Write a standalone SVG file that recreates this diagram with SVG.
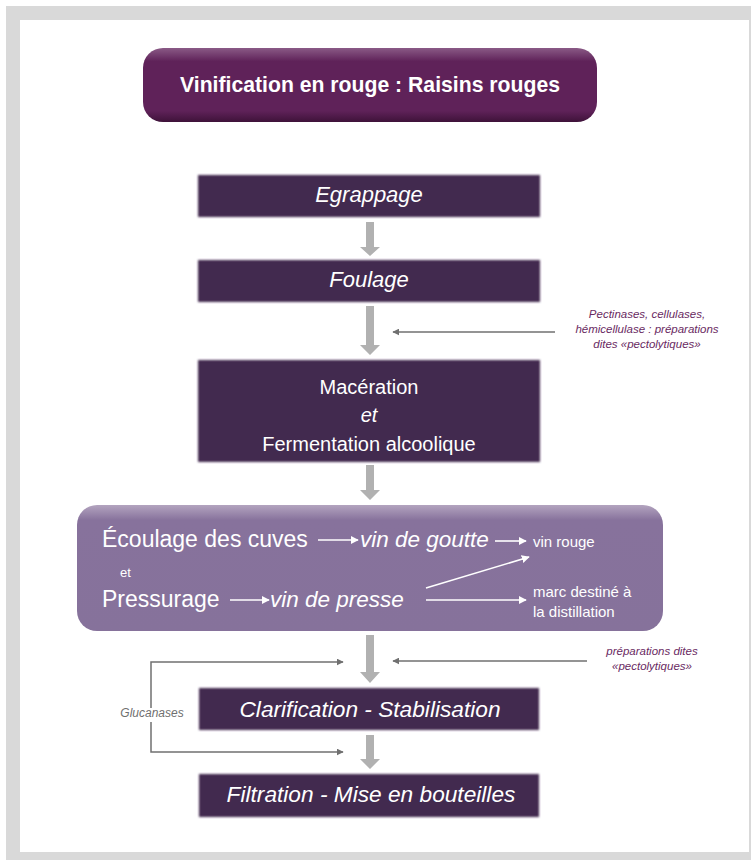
<svg xmlns="http://www.w3.org/2000/svg" width="751" height="860" viewBox="0 0 751 860">
<style>
.box{fill:#432a50;filter:url(#soft)}
.bt{font-family:"Liberation Sans",Arial,sans-serif;fill:#fff;text-anchor:middle}
.it{font-style:italic}
.ga{fill:#b1b1b1}
.thin{stroke:#707070;stroke-width:1.5;fill:none}
.wl{stroke:#fff;stroke-width:1.6;fill:none}
.note{font-family:"Liberation Sans",Arial,sans-serif;font-style:italic;fill:#6a2a62;font-size:11.5px;text-anchor:middle}
.wt{font-family:"Liberation Sans",Arial,sans-serif;fill:#fff}
</style>
<defs>
<filter id="soft" x="-5%" y="-20%" width="110%" height="140%"><feGaussianBlur stdDeviation="1.2"/></filter>
<linearGradient id="tg" x1="0" y1="0" x2="0" y2="1">
<stop offset="0" stop-color="#8a5a86"/><stop offset="0.18" stop-color="#5f2259"/><stop offset="0.85" stop-color="#5f2259"/><stop offset="1" stop-color="#3e1239"/>
</linearGradient>
<linearGradient id="lg" x1="0" y1="0" x2="0" y2="1">
<stop offset="0" stop-color="#b3a4bf"/><stop offset="0.12" stop-color="#87729c"/><stop offset="1" stop-color="#86729b"/>
</linearGradient>
<marker id="ga" viewBox="0 0 10 10" refX="9" refY="5" markerWidth="7" markerHeight="7" markerUnits="userSpaceOnUse" orient="auto"><path d="M0,0 L10,5 L0,10 z" fill="#707070"/></marker>
<marker id="wa" viewBox="0 0 10 10" refX="9" refY="5" markerWidth="8" markerHeight="8" markerUnits="userSpaceOnUse" orient="auto"><path d="M0,0 L10,5 L0,10 z" fill="#fff"/></marker>
</defs>
<rect x="6" y="6" width="745" height="854" fill="#d9d9d9"/>
<rect x="20" y="20" width="729" height="832" fill="#fff"/>

<g id="title">
<rect x="143" y="48" width="454" height="74" rx="20" fill="url(#tg)"/>
<text class="wt" x="370" y="92" font-size="22" font-weight="bold" text-anchor="middle" textLength="380" lengthAdjust="spacingAndGlyphs">Vinification en rouge : Raisins rouges</text>
</g>

<g id="egrappage">
<rect class="box" x="198" y="175" width="342" height="42"/>
<text class="bt it" x="369" y="202" font-size="22">Egrappage</text>
</g>
<g id="foulage">
<rect class="box" x="198" y="260" width="342" height="42"/>
<text class="bt it" x="369" y="287" font-size="22">Foulage</text>
</g>
<g id="maceration">
<rect class="box" x="198" y="360" width="342" height="102"/>
<text class="bt" x="369" y="394" font-size="20">Macération</text>
<text class="bt it" x="369" y="422" font-size="20">et</text>
<text class="bt" x="369" y="451" font-size="20">Fermentation alcoolique</text>
</g>
<g id="ecoulage">
<rect x="77" y="505" width="586" height="126" rx="20" fill="url(#lg)"/>
<text class="wt" x="102" y="547" font-size="23">Écoulage des cuves</text>
<text class="wt it" x="360" y="547" font-size="22.5">vin de goutte</text>
<text class="wt" x="533" y="547" font-size="15">vin rouge</text>
<text class="wt" x="120" y="577" font-size="13">et</text>
<text class="wt" x="102" y="607" font-size="23">Pressurage</text>
<text class="wt it" x="270" y="607" font-size="22.5">vin de presse</text>
<text class="wt" x="533" y="597" font-size="15">marc destiné à</text>
<text class="wt" x="533" y="617" font-size="15">la distillation</text>
<line class="wl" x1="318" y1="540" x2="358" y2="540" marker-end="url(#wa)"/>
<line class="wl" x1="495" y1="541" x2="526" y2="541" marker-end="url(#wa)"/>
<line class="wl" x1="230" y1="600" x2="269" y2="600" marker-end="url(#wa)"/>
<line class="wl" x1="426" y1="588" x2="529" y2="557" marker-end="url(#wa)"/>
<line class="wl" x1="426" y1="600" x2="526" y2="600" marker-end="url(#wa)"/>
</g>
<g id="clarification">
<rect class="box" x="199" y="688" width="340" height="42"/>
<text class="bt it" x="370" y="717" font-size="22.7">Clarification - Stabilisation</text>
</g>
<g id="filtration">
<rect class="box" x="199" y="774" width="340" height="43"/>
<text class="bt it" x="371" y="802" font-size="22.7">Filtration - Mise en bouteilles</text>
</g>

<g id="connectors">
<path class="ga" d="M366,222 H374 V247 H380 L370,256 L360,247 H366 Z"/>
<path class="ga" d="M366,306 H374 V345 H380 L370,355 L360,345 H366 Z"/>
<path class="ga" d="M366,465 H374 V490 H380 L370,500 L360,490 H366 Z"/>
<path class="ga" d="M366,635 H374 V672 H380 L370,683 L360,672 H366 Z"/>
<path class="ga" d="M366,735 H374 V759 H380 L370,769 L360,759 H366 Z"/>
<line class="thin" x1="555" y1="332" x2="393" y2="332" marker-end="url(#ga)"/>
<line class="thin" x1="587" y1="661" x2="393" y2="661" marker-end="url(#ga)"/>
<path class="thin" d="M151,708 V662 H343" marker-end="url(#ga)"/>
<path class="thin" d="M151,722 V752 H343" marker-end="url(#ga)"/>
</g>

<g id="notes">
<text class="note" x="647" y="318">Pectinases, cellulases,</text>
<text class="note" x="647" y="333">hémicellulase : préparations</text>
<text class="note" x="647" y="348">dites «pectolytiques»</text>
<text class="note" x="652" y="655">préparations dites</text>
<text class="note" x="652" y="670">«pectolytiques»</text>
<text x="152" y="717" font-family="Liberation Sans, Arial, sans-serif" font-style="italic" font-size="12" fill="#6f6f6f" text-anchor="middle">Glucanases</text>
</g>
</svg>
